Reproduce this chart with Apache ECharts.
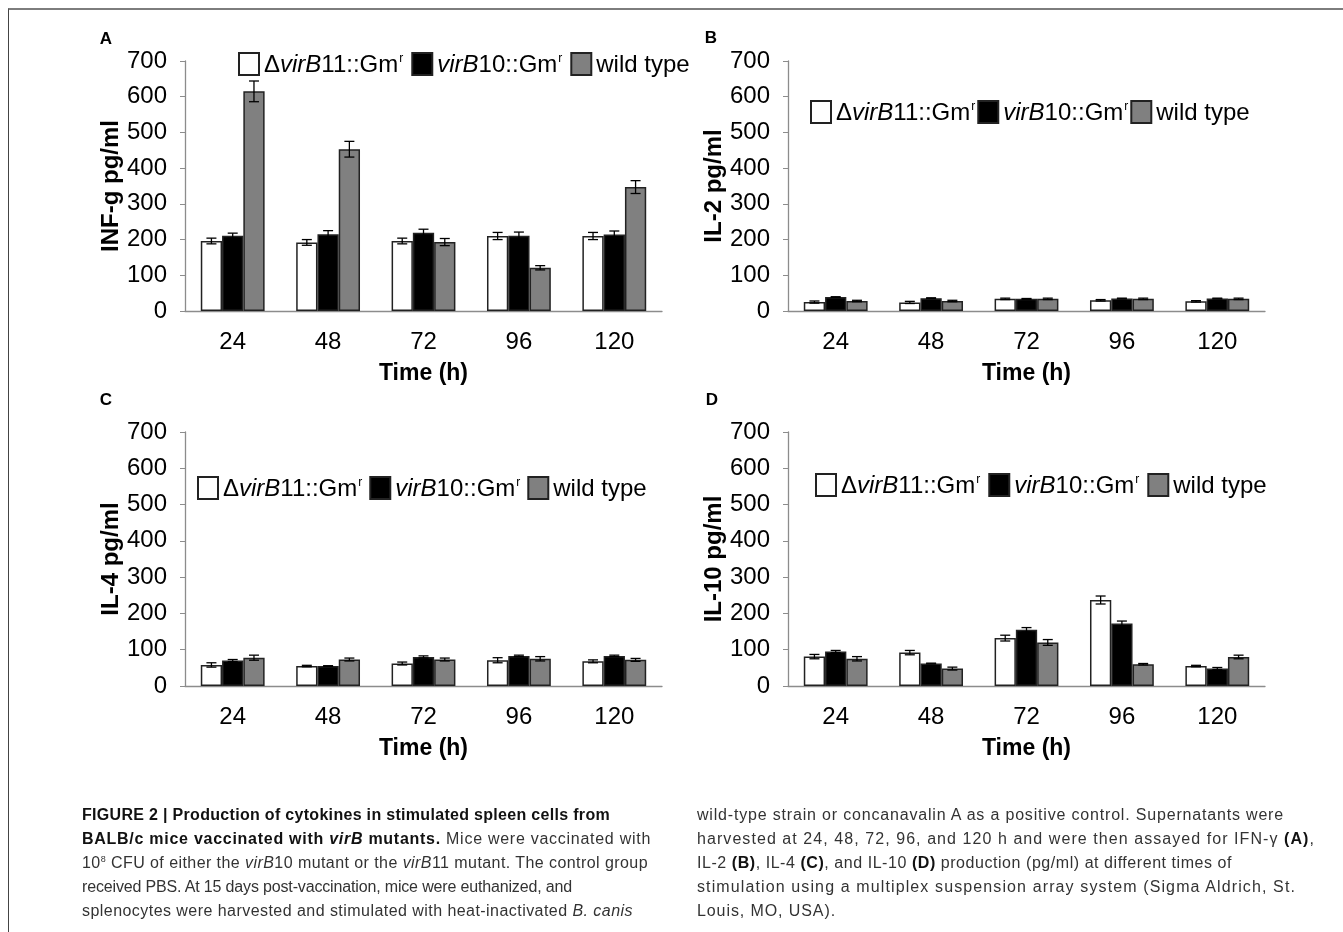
<!DOCTYPE html>
<html>
<head>
<meta charset="utf-8">
<script src="https://cdn.jsdelivr.net/npm/echarts@6/dist/echarts.min.js"></script>
<style>
  html, body { margin: 0; padding: 0; background: #fff; }
  #wrap { position: relative; width: 1343px; height: 932px; overflow: hidden; }
  #chart { position: absolute; left: 0; top: 0; width: 1343px; height: 932px; }
  #frame { position: absolute; left: 8px; top: 8px; width: 1340px; height: 930px;
           border-top: 2px solid #7d7d7d; border-left: 1px solid #444; pointer-events: none; }
  .cap { position: absolute; top: 803px; font-family: 'Liberation Sans', Arial, sans-serif;
         font-size: 16px; line-height: 24px; color: #333; white-space: nowrap; }
  .cap > div > span { display: inline-block; }
  .cap b { color: #111; }
  .cap sup { font-size: 9px; line-height: 0; vertical-align: 6px; }
</style>
</head>
<body>
<div id="wrap">
  <div id="chart"></div>
  <div id="frame"></div>
  <div class="cap" style="left:82px;">
    <div><span data-w="528"><b>FIGURE 2 | Production of cytokines in stimulated spleen cells from</b></span></div>
    <div><span data-w="569"><b>BALB/c mice vaccinated with <i>virB</i> mutants.</b> Mice were vaccinated with</span></div>
    <div><span data-w="566">10<sup>8</sup> CFU of either the <i>virB</i>10 mutant or the <i>virB</i>11 mutant. The control group</span></div>
    <div><span data-w="490">received PBS. At 15 days post-vaccination, mice were euthanized, and</span></div>
    <div><span data-w="551">splenocytes were harvested and stimulated with heat-inactivated <i>B. canis</i></span></div>
  </div>
  <div class="cap" style="left:697px;">
    <div><span data-w="587">wild-type strain or concanavalin A as a positive control. Supernatants were</span></div>
    <div><span data-w="618">harvested at 24, 48, 72, 96, and 120 h and were then assayed for IFN-γ <b>(A)</b>,</span></div>
    <div><span data-w="535">IL-2 <b>(B)</b>, IL-4 <b>(C)</b>, and IL-10 <b>(D)</b> production (pg/ml) at different times of</span></div>
    <div><span data-w="599">stimulation using a multiplex suspension array system (Sigma Aldrich, St.</span></div>
    <div><span data-w="139">Louis, MO, USA).</span></div>
  </div>
</div>
<script>
// ---------------- data ----------------
const categories = ['24', '48', '72', '96', '120'];
const seriesNames = ['ΔvirB11::Gmr', 'virB10::Gmr', 'wild type'];
const yTicks = [0, 100, 200, 300, 400, 500, 600, 700];

// Panel A: INF-g
const A_virB11 = [196, 192, 196, 210, 210];
const A_virB11_err = [8, 8, 8, 10, 10];
const A_virB10 = [211, 215, 219, 211, 214];
const A_virB10_err = [7, 10, 10, 10, 10];
const A_wild = [615, 453, 193, 121, 347];
const A_wild_err = [29, 22, 10, 6, 18];

// Panel B: IL-2
const B_virB11 = [25, 24, 34, 30, 27];
const B_virB11_err = [3, 3, 2, 2, 2];
const B_virB10 = [39, 36, 34, 35, 35];
const B_virB10_err = [1, 1, 1, 1, 1];
const B_wild = [28, 28, 34, 34, 34];
const B_wild_err = [2, 2, 2, 2, 2];

// Panel C: IL-4
const C_virB11 = [58, 55, 62, 71, 68];
const C_virB11_err = [6, 2, 4, 7, 4];
const C_virB10 = [70, 55, 80, 83, 83];
const C_virB10_err = [3, 1, 3, 2, 2];
const C_wild = [78, 73, 73, 75, 72];
const C_wild_err = [7, 4, 4, 6, 4];

// Panel D: IL-10
const D_virB11 = [81, 92, 132, 237, 55];
const D_virB11_err = [6, 6, 8, 11, 2];
const D_virB10 = [95, 62, 155, 172, 48];
const D_virB10_err = [3, 1, 6, 7, 3];
const D_wild = [75, 48, 120, 60, 80];
const D_wild_err = [6, 4, 8, 2, 5];

const yTitles = ['INF-g pg/ml', 'IL-2 pg/ml', 'IL-4 pg/ml', 'IL-10 pg/ml'];
const xTitle = 'Time (h)';
const panelLetters = ['A', 'B', 'C', 'D'];

// ---------------- layout / style ----------------
const FONT = "'Liberation Sans', Arial, sans-serif";
const colors = ['#ffffff', '#000000', '#808080'];
const BAR_PCT = 0.223;
const grids = [
  { left: 185, top: 61, width: 477, height: 250 },
  { left: 788, top: 61, width: 477, height: 250 },
  { left: 185, top: 432, width: 477, height: 254 },
  { left: 788, top: 432, width: 477, height: 254 }
];
const legendPos = [
  { left: 238, top: 51, itemGap: 8 },
  { left: 810, top: 99, itemGap: 2 },
  { left: 197, top: 475, itemGap: 7 },
  { left: 815, top: 472, itemGap: 8 }
];
const letterPos = [[106, 39], [711, 38], [106, 400], [712, 400]];

const panels = [
  [[A_virB11, A_virB11_err], [A_virB10, A_virB10_err], [A_wild, A_wild_err]],
  [[B_virB11, B_virB11_err], [B_virB10, B_virB10_err], [B_wild, B_wild_err]],
  [[C_virB11, C_virB11_err], [C_virB10, C_virB10_err], [C_wild, C_wild_err]],
  [[D_virB11, D_virB11_err], [D_virB10, D_virB10_err], [D_wild, D_wild_err]]
];

const LF = 24;
const legendRich = {
  n: { fontSize: LF, fontFamily: FONT, color: '#000', lineHeight: 26, verticalAlign: 'bottom' },
  i: { fontSize: LF, fontFamily: FONT, color: '#000', fontStyle: 'italic', lineHeight: 26, verticalAlign: 'bottom' },
  s: { fontSize: 12, fontFamily: FONT, color: '#000', lineHeight: 26, verticalAlign: 'top', padding: [2, 0, 0, 1] }
};
function legendFormatter(name) {
  if (name === seriesNames[0]) return '{n|Δ}{i|virB}{n|11::Gm}{s|r}';
  if (name === seriesNames[1]) return '{i|virB}{n|10::Gm}{s|r}';
  return '{n|' + name + '}';
}

function errRender(k) {
  return function (params, api) {
    const ci = api.value(0), v = api.value(1), e = api.value(2);
    const band = api.size([1, 0])[0];
    const bw = band * BAR_PCT;
    const cx = api.coord([ci, v])[0] + (k - 1) * bw;
    const yTop = api.coord([ci, v + e])[1];
    const yBot = api.coord([ci, Math.max(0, v - e)])[1];
    const cap = 5;
    const st = { stroke: '#000', lineWidth: 1.3 };
    return {
      type: 'group',
      children: [
        { type: 'line', shape: { x1: cx, y1: yTop, x2: cx, y2: yBot }, style: st },
        { type: 'line', shape: { x1: cx - cap, y1: yTop, x2: cx + cap, y2: yTop }, style: st },
        { type: 'line', shape: { x1: cx - cap, y1: yBot, x2: cx + cap, y2: yBot }, style: st }
      ]
    };
  };
}

const option = {
  animation: false,
  backgroundColor: 'transparent',
  grid: grids.map(g => Object.assign({ containLabel: false }, g)),
  legend: legendPos.map(p => ({
    left: p.left, top: p.top, itemGap: p.itemGap, orient: 'horizontal',
    itemWidth: 20, itemHeight: 22, padding: 0,
    data: seriesNames.map(n => ({ name: n, icon: 'rect' })),
    formatter: legendFormatter,
    textStyle: { rich: legendRich, fontSize: LF, fontFamily: FONT },
    selectedMode: false
  })),
  xAxis: grids.map((g, i) => ({
    type: 'category', gridIndex: i, data: categories,
    name: xTitle, nameLocation: 'middle', nameGap: 51,
    nameTextStyle: { fontSize: 23, fontWeight: 'bold', fontFamily: FONT, color: '#000' },
    axisLine: { lineStyle: { color: '#8c8c8c', width: 1.3 } },
    axisTick: { show: false },
    axisLabel: { fontSize: 24, fontFamily: FONT, color: '#000', margin: 19 }
  })),
  yAxis: grids.map((g, i) => ({
    type: 'value', gridIndex: i, min: 0, max: 700, interval: 100,
    name: yTitles[i], nameLocation: 'middle', nameGap: 59,
    nameTextStyle: { fontSize: 24, fontWeight: 'bold', fontFamily: FONT, color: '#000' },
    axisLine: { show: true, lineStyle: { color: '#8c8c8c', width: 1.3 } },
    axisTick: { show: true, length: 5, lineStyle: { color: '#8c8c8c' } },
    splitLine: { show: false },
    axisLabel: { fontSize: 24, fontFamily: FONT, color: '#000', margin: 18,
                 formatter: v => (yTicks.indexOf(v) >= 0 ? String(v) : '') }
  })),
  graphic: panelLetters.map((t, i) => ({
    type: 'text', x: letterPos[i][0], y: letterPos[i][1],
    style: { text: t, font: 'bold 17px ' + FONT, fill: '#000', align: 'center', verticalAlign: 'middle' }
  })),
  series: []
};

panels.forEach((ser, pi) => {
  ser.forEach((pair, k) => {
    option.series.push({
      type: 'bar', name: seriesNames[k], xAxisIndex: pi, yAxisIndex: pi,
      data: pair[0], barWidth: (BAR_PCT * 100) + '%', barGap: '0%',
      itemStyle: { color: colors[k], borderColor: '#222', borderWidth: 1.5 },
      z: 2
    });
  });
  ser.forEach((pair, k) => {
    option.series.push({
      type: 'custom', name: 'err-' + pi + '-' + k, xAxisIndex: pi, yAxisIndex: pi,
      renderItem: errRender(k),
      data: pair[0].map((v, ci) => [ci, v, pair[1][ci]]),
      z: 5, silent: true
    });
  });
});

const chart = echarts.init(document.getElementById('chart'), null, { renderer: 'canvas' });
chart.setOption(option);

// fit caption lines to the measured widths of the printed figure
document.querySelectorAll('.cap span[data-w]').forEach(sp => {
  const target = parseFloat(sp.getAttribute('data-w'));
  const nat = sp.getBoundingClientRect().width;
  const n = sp.textContent.length;
  if (n > 1) sp.style.letterSpacing = ((target - nat) / n).toFixed(3) + 'px';
});
</script>
</body>
</html>
